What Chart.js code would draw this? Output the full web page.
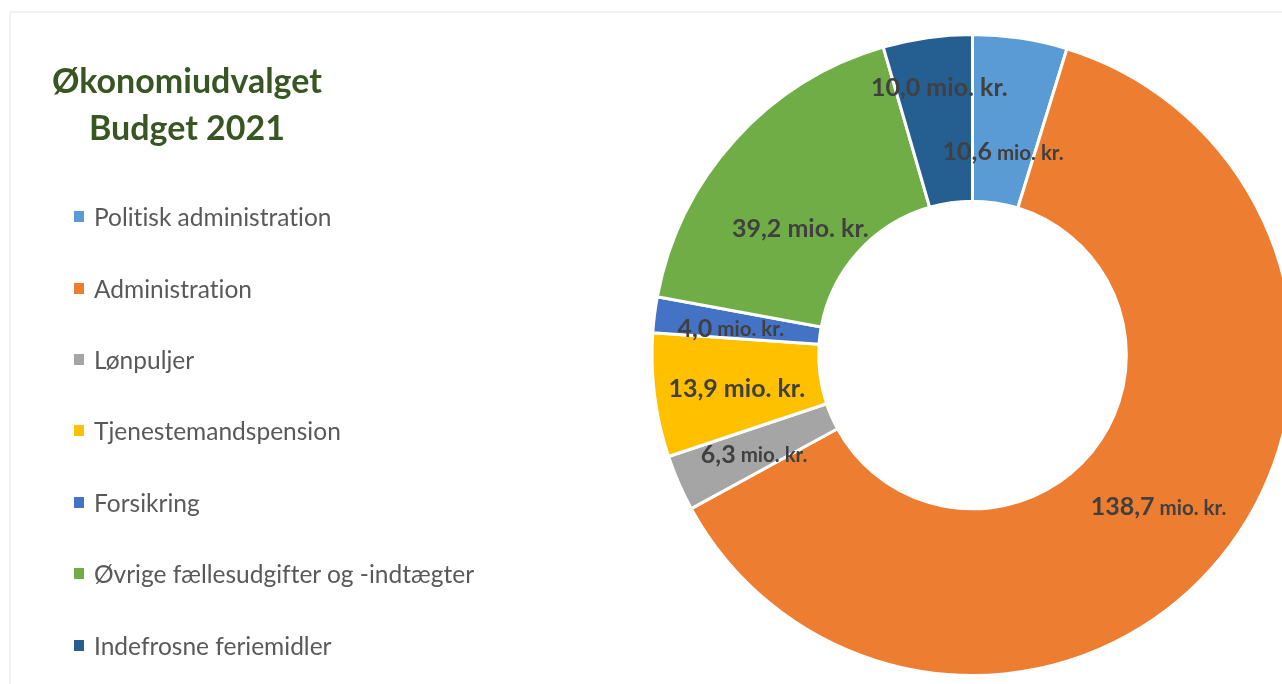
<!DOCTYPE html>
<html lang="da">
<head>
<meta charset="utf-8">
<title>Økonomiudvalget Budget 2021</title>
<script src="https://cdn.jsdelivr.net/npm/chart.js@4.4.1/dist/chart.umd.min.js"></script>
<style>
  html, body {
    margin: 0;
    padding: 0;
    width: 1282px;
    height: 684px;
    overflow: hidden;
    background: #ffffff;
    font-family: Lato, "Open Sans", sans-serif;
    font-variant-ligatures: none;
  }
  #frame {
    position: absolute;
    left: 9px;
    top: 11px;
    width: 1400px;
    height: 800px;
    border-top: 2px solid #f1f1f1;
    border-left: 2px solid #f1f1f1;
  }
  #chart-wrap {
    position: absolute;
    left: 0;
    top: 0;
    width: 1320px;
    height: 684px;
  }
  #title {
    position: absolute;
    left: 37px;
    top: 56px;
    width: 300px;
    text-align: center;
    color: #375623;
    font-weight: bold;
    font-size: 34px;
    line-height: 47px;
  }
  #legend {
    position: absolute;
    left: 74px;
    top: 181px;
    margin: 0;
    padding: 0;
    list-style: none;
  }
  #legend li {
    height: 71.4px;
    display: flex;
    align-items: center;
    color: #595959;
    font-size: 24.5px;
    white-space: nowrap;
  }
  #legend .box {
    display: inline-block;
    width: 10px;
    height: 11px;
    margin-right: 10px;
  }
</style>
</head>
<body>
<div id="frame"></div>
<div id="chart-wrap"><canvas id="budgetChart"></canvas></div>
<div id="title">Økonomiudvalget<br>Budget 2021</div>
<ul id="legend"></ul>

<script>
const labels = [
  "Politisk administration",
  "Administration",
  "Lønpuljer",
  "Tjenestemandspension",
  "Forsikring",
  "Øvrige fællesudgifter og -indtægter",
  "Indefrosne feriemidler",
];
const values = [10.6, 138.7, 6.3, 13.9, 4.0, 39.2, 10.0];
const colors = [
  "#5B9BD5",
  "#ED7D31",
  "#A5A5A5",
  "#FFC000",
  "#4472C4",
  "#70AD47",
  "#255E91",
];

// label placement tweaks: [radial px, angle deg] relative to the slice centre
const labelShift = [
  [-32, 0],
  [3, 0],
  [3, -1],
  [1, -1],
  [6, -1],
  [-24, -6],
  [32, 1],
];
// true = "mio. kr." in the same size as the number
const unitSameSize = [false, false, false, true, false, true, true];

function fmt(v) {
  return v.toFixed(1).replace(".", ",");
}

const sliceLabels = {
  id: "sliceLabels",
  afterDatasetsDraw(chart) {
    const ctx = chart.ctx;
    const meta = chart.getDatasetMeta(0);
    const bigFont = "bold 25px Lato, 'Open Sans', sans-serif";
    const smallFont = "bold 20.5px Lato, 'Open Sans', sans-serif";

    ctx.save();
    ctx.fillStyle = "#404040";
    ctx.textBaseline = "middle";
    ctx.textAlign = "left";

    meta.data.forEach((arc, i) => {
      const p = arc.getProps(
        ["x", "y", "startAngle", "endAngle", "innerRadius", "outerRadius"],
        true
      );
      const shift = labelShift[i];
      const mid = (p.startAngle + p.endAngle) / 2 + (shift[1] * Math.PI) / 180;
      const r = (p.innerRadius + p.outerRadius) / 2 + shift[0];
      const cx = p.x + Math.cos(mid) * r;
      const cy = p.y + Math.sin(mid) * r;

      const num = fmt(values[i]);
      const unit = " mio. kr.";
      ctx.font = bigFont;
      const wNum = ctx.measureText(num).width;
      ctx.font = unitSameSize[i] ? bigFont : smallFont;
      const wUnit = ctx.measureText(unit).width;

      let x = cx - (wNum + wUnit) / 2;
      ctx.font = bigFont;
      ctx.fillText(num, x, cy);
      ctx.font = unitSameSize[i] ? bigFont : smallFont;
      ctx.fillText(unit, x + wNum, cy + (unitSameSize[i] ? 0 : 1));
    });
    ctx.restore();
  },
};

const chart = new Chart(document.getElementById("budgetChart"), {
  type: "doughnut",
  data: {
    labels: labels,
    datasets: [
      {
        data: values,
        backgroundColor: colors,
        borderColor: "#ffffff",
        borderWidth: 3,
      },
    ],
  },
  options: {
    responsive: true,
    maintainAspectRatio: false,
    animation: false,
    cutout: "48%",
    layout: {
      padding: { left: 650, right: 25, top: 33, bottom: 7 },
    },
    plugins: {
      legend: { display: false },
      tooltip: { enabled: false },
      title: { display: false },
    },
  },
  plugins: [sliceLabels],
});

// legend built from the chart's own label/colour data
const legendEl = document.getElementById("legend");
chart.data.labels.forEach((lbl, i) => {
  const li = document.createElement("li");
  const box = document.createElement("span");
  box.className = "box";
  box.style.background = chart.data.datasets[0].backgroundColor[i];
  li.appendChild(box);
  li.appendChild(document.createTextNode(lbl));
  legendEl.appendChild(li);
});
</script>
</body>
</html>
